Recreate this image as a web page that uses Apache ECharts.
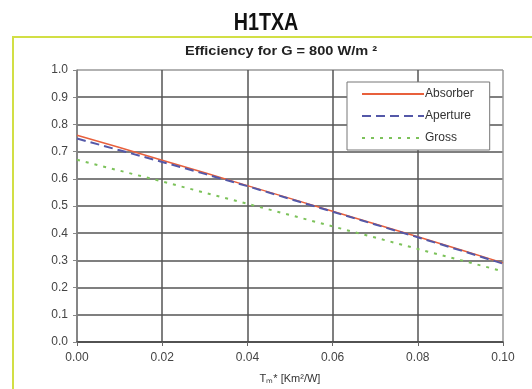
<!DOCTYPE html>
<html>
<head>
<meta charset="utf-8">
<script src="https://cdn.jsdelivr.net/npm/echarts@6/dist/echarts.min.js"></script>
<style>
html,body{margin:0;padding:0;background:#fff;}
#chart{width:532px;height:389px;}
</style>
</head>
<body>
<div id="chart"></div>
<script>
// Collector efficiency vs reduced temperature difference, G = 800 W/m²
const tmValues = [0.00, 0.01, 0.02, 0.03, 0.04, 0.05, 0.06, 0.07, 0.08, 0.09, 0.10];
const absorber = [0.760, 0.715, 0.668, 0.622, 0.575, 0.528, 0.481, 0.434, 0.387, 0.339, 0.291];
const aperture = [0.748, 0.705, 0.662, 0.618, 0.573, 0.526, 0.479, 0.432, 0.385, 0.337, 0.288];
const gross    = [0.670, 0.630, 0.590, 0.549, 0.508, 0.467, 0.425, 0.384, 0.342, 0.301, 0.260];
const seriesNames = ['Absorber', 'Aperture', 'Gross'];

const pairs = arr => tmValues.map((t, i) => [t, arr[i]]);

const chart = echarts.init(document.getElementById('chart'), null, {renderer: 'canvas'});
const font = "'Liberation Sans', Arial, sans-serif";

const ySplit = ['#555','#555','#555','#555','#555','#555','#555','#555','#555','#555','#999'];
const xSplit = ['#555','#555','#555','#555','#555','#999'];

chart.setOption({
  animation: false,
  backgroundColor: '#fff',
  textStyle: {fontFamily: font},
  graphic: [
    {
      type: 'text',
      x: 266, y: 11,
      scaleX: 0.82,
      style: {
        text: 'H1TXA', x: 0, y: 0,
        textAlign: 'center', textVerticalAlign: 'top',
        font: "bold 24px 'Liberation Sans', Arial, sans-serif",
        fill: '#111'
      },
      silent: true
    },
    {
      type: 'text',
      x: 281, y: 45,
      scaleX: 1.12,
      style: {
        text: 'Efficiency for G = 800 W/m ²', x: 0, y: 0,
        textAlign: 'center', textVerticalAlign: 'top',
        font: "bold 13px 'Liberation Sans', Arial, sans-serif",
        fill: '#222'
      },
      silent: true
    },
    {
      type: 'rect',
      shape: {x: 13, y: 37, width: 560, height: 420},
      style: {fill: 'none', stroke: '#d2df45', lineWidth: 2},
      silent: true
    }
  ],
  legend: {
    data: seriesNames,
    orient: 'vertical',
    left: 347, top: 82,
    padding: [6, 16, 6, 14],
    itemWidth: 62, itemHeight: 12, itemGap: 10,
    itemStyle: {opacity: 0},
    backgroundColor: '#fff',
    borderColor: '#777', borderWidth: 1,
    textStyle: {fontFamily: font, fontSize: 12, color: '#333', padding: [0, 0, 0, -4]}
  },
  grid: {left: 77, right: 29, top: 70, bottom: 43.5, containLabel: false},
  xAxis: {
    type: 'value', min: 0, max: 0.1, interval: 0.02,
    name: 'Tₘ* [Km²/W]', nameLocation: 'middle', nameGap: 31,
    nameTextStyle: {fontFamily: font, fontSize: 11, color: '#333'},
    axisLine: {show: true, lineStyle: {color: '#444', width: 1.5}},
    axisTick: {show: true, length: 4, lineStyle: {color: '#666'}},
    axisLabel: {formatter: v => v.toFixed(2), fontSize: 12, color: '#444', margin: 10, fontFamily: font},
    splitLine: {show: true, lineStyle: {color: xSplit, width: 1.5}}
  },
  yAxis: {
    type: 'value', min: 0, max: 1, interval: 0.1,
    axisLine: {show: true, lineStyle: {color: '#888', width: 1.5}},
    axisTick: {show: true, length: 4, lineStyle: {color: '#888'}},
    axisLabel: {formatter: v => v.toFixed(1), fontSize: 12, color: '#444', margin: 9, fontFamily: font},
    splitLine: {show: true, lineStyle: {color: ySplit, width: 1.5}}
  },
  series: [
    {
      name: 'Absorber', type: 'line', data: pairs(absorber), symbol: 'none',
      itemStyle: {color: '#e8603c'},
      lineStyle: {color: '#e8603c', width: 1.5, type: 'solid'}, z: 3
    },
    {
      name: 'Aperture', type: 'line', data: pairs(aperture), symbol: 'none',
      itemStyle: {color: '#5458a8'},
      lineStyle: {color: '#5458a8', width: 2, type: [9, 5]}, z: 4
    },
    {
      name: 'Gross', type: 'line', data: pairs(gross), symbol: 'none',
      itemStyle: {color: '#7cc25a'},
      lineStyle: {color: '#7cc25a', width: 2, type: [3, 6]}, z: 2
    }
  ]
});
</script>
</body>
</html>
